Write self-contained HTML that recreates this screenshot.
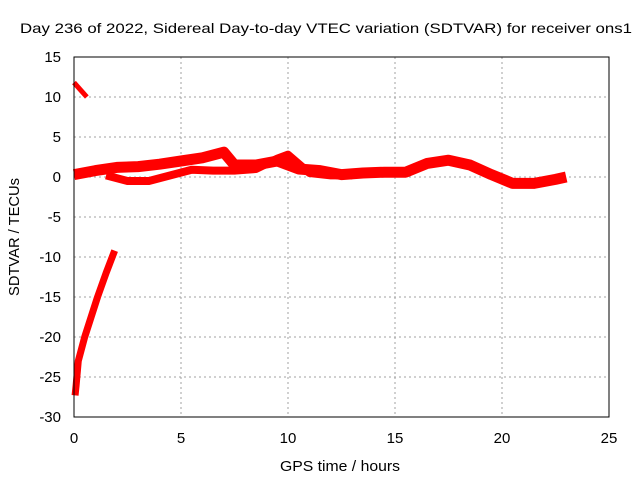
<!DOCTYPE html>
<html><head><meta charset="utf-8"><style>
body{margin:0;background:#fff;}
svg{display:block;font-family:"Liberation Sans",sans-serif;}
</style></head><body>
<svg id="chart" width="640" height="480">
<text x="326" y="33" font-size="14" text-anchor="middle" textLength="612" lengthAdjust="spacingAndGlyphs">Day 236 of 2022, Sidereal Day-to-day VTEC variation (SDTVAR) for receiver ons1</text>
<text x="340" y="471" font-size="15" text-anchor="middle" textLength="120" lengthAdjust="spacingAndGlyphs">GPS time / hours</text>
<text transform="translate(19,237) rotate(-90)" font-size="15" text-anchor="middle" textLength="118" lengthAdjust="spacingAndGlyphs">SDTVAR / TECUs</text>
<g id="grid"></g><g id="marks"></g>
<rect x="74" y="57" width="535" height="360" fill="none" stroke="#000" stroke-width="1"/>
</svg>
<script>
const xTicks=[0,5,10,15,20,25];
const yTicks=[15,10,5,0,-5,-10,-15,-20,-25,-30];
const seriesTopT=[0,0.3,0.6];
const seriesTopV=[11.8,10.9,10];
const seriesSteepT=[0.05,0.1,0.2,0.5,1.1,1.5,1.9];
const seriesSteepV=[-27.3,-26,-23,-20,-15,-12,-9.2];
const seriesMainT=[0,1,2,3,4,5,6,7,7.5,8.5,9.5,10.5,11.5,12.5,13.5,14.5,15.5,16.5,17.5,18.5,19.5,20.5,21.5,22.5,23];
const seriesMainV=[0.3,0.8,1.2,1.3,1.6,2.0,2.4,3.1,1.5,1.5,2.0,1.0,0.8,0.3,0.5,0.6,0.6,1.7,2.1,1.5,0.3,-0.8,-0.8,-0.3,0];
const seriesLoopT=[1.5,2.5,3.5,4.5,5.5,6.5,7.5,8.5,9.5,10,11,12,13];
const seriesLoopV=[0.2,-0.5,-0.5,0.2,0.9,0.8,0.8,1.0,2.3,2.8,0.5,0.2,0.2];
const X=t=>74+t*535/25, Y=v=>57+(15-v)*8;
const ns="http://www.w3.org/2000/svg";
const grid=document.getElementById('grid'), marks=document.getElementById('marks'), svg=document.getElementById('chart');
xTicks.forEach(t=>{
 const l=document.createElementNS(ns,'line');
 
 
 l.setAttribute('x1',X(t));l.setAttribute('x2',X(t));l.setAttribute('y1',57);l.setAttribute('y2',417);
 l.setAttribute('stroke',(t==0||t==25)?'none':'#a0a0a0');l.setAttribute('stroke-dasharray','2,3');
 grid.appendChild(l);
 const tx=document.createElementNS(ns,'text');
 
 
 tx.setAttribute('x',X(t));tx.setAttribute('y',443);tx.setAttribute('font-size','15');tx.setAttribute('text-anchor','middle');
 tx.textContent=t;svg.appendChild(tx);
});
yTicks.forEach(v=>{
 const l=document.createElementNS(ns,'line');
 
 
 l.setAttribute('x1',74);l.setAttribute('x2',609);l.setAttribute('y1',Y(v));l.setAttribute('y2',Y(v));
 l.setAttribute('stroke',(v==15||v==-30)?'none':'#a0a0a0');l.setAttribute('stroke-dasharray','2,3');
 grid.appendChild(l);
 const tx=document.createElementNS(ns,'text');
 
 
 tx.setAttribute('x',61);tx.setAttribute('y',Y(v)+5);tx.setAttribute('font-size','15');tx.setAttribute('text-anchor','end');
 tx.textContent=v;svg.appendChild(tx);
});
function draw(ts,vs,w,name){
 const p=document.createElementNS(ns,'polyline');
 
 
 p.setAttribute('points',ts.map((t,i)=>X(t)+','+Y(vs[i])).join(' '));
 p.setAttribute('fill','none');p.setAttribute('stroke','#ff0000');p.setAttribute('stroke-width',w);
 p.setAttribute('stroke-linejoin','round');
 marks.appendChild(p);
}
draw(seriesTopT,seriesTopV,5,'series-top');
draw(seriesSteepT,seriesSteepV,7,'series-steep');
draw(seriesMainT,seriesMainV,11,'series-main');
draw(seriesLoopT,seriesLoopV,8,'series-loop');
</script>
</body></html>
